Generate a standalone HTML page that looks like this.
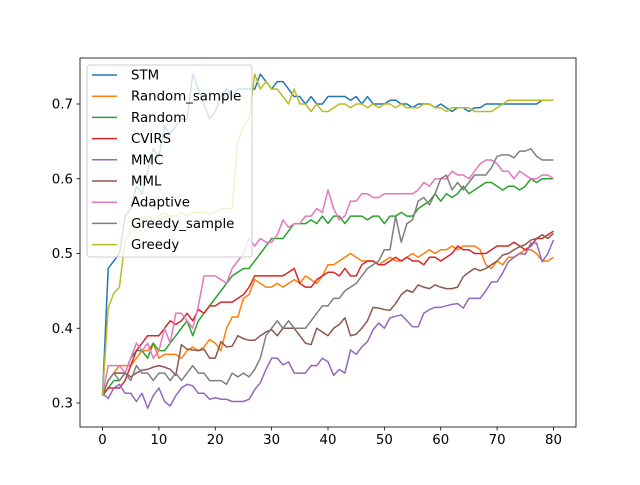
<!DOCTYPE html>
<html><head><meta charset="utf-8"><style>
body{margin:0;background:#fff;}
svg text{font-family:"DejaVu Sans","Liberation Sans",sans-serif;}
</style></head><body>
<svg id="chart" width="640" height="480" xmlns="http://www.w3.org/2000/svg">
<rect x="0" y="0" width="640" height="480" fill="#fff"/>
<g id="plot"></g>
<g id="axes"></g>
<g id="legend"></g>
</svg>
<script>
const xTicks=[0,10,20,30,40,50,60,70,80];
const yTicks=[0.3,0.4,0.5,0.6,0.7];
const seriesNames=["STM","Random_sample","Random","CVIRS","MMC","MML","Adaptive","Greedy_sample","Greedy"];
const seriesColors=["#1f77b4","#ff7f0e","#2ca02c","#d62728","#9467bd","#8c564b","#e377c2","#7f7f7f","#bcbd22"];
const stm=[0.31,0.48,0.49,0.50,0.55,0.56,0.59,0.58,0.61,0.64,0.63,0.67,0.66,0.67,0.68,0.68,0.74,0.72,0.70,0.68,0.69,0.71,0.72,0.71,0.72,0.72,0.72,0.72,0.74,0.73,0.72,0.73,0.73,0.72,0.71,0.71,0.70,0.71,0.70,0.70,0.71,0.71,0.71,0.71,0.705,0.71,0.70,0.71,0.70,0.70,0.70,0.705,0.705,0.70,0.70,0.695,0.70,0.70,0.70,0.695,0.70,0.695,0.69,0.695,0.695,0.69,0.695,0.695,0.70,0.70,0.70,0.70,0.70,0.70,0.70,0.70,0.70,0.70,0.705,0.705,0.705];
const randomSample=[0.31,0.33,0.34,0.35,0.35,0.35,0.36,0.37,0.37,0.38,0.36,0.365,0.365,0.365,0.36,0.37,0.375,0.37,0.375,0.385,0.38,0.37,0.40,0.415,0.415,0.44,0.445,0.465,0.46,0.455,0.455,0.46,0.455,0.46,0.465,0.46,0.47,0.465,0.46,0.47,0.485,0.485,0.49,0.495,0.50,0.495,0.49,0.49,0.49,0.485,0.49,0.495,0.49,0.49,0.495,0.50,0.495,0.50,0.505,0.50,0.505,0.505,0.51,0.505,0.51,0.51,0.51,0.505,0.485,0.48,0.49,0.485,0.495,0.495,0.50,0.505,0.505,0.50,0.49,0.49,0.495];
const random=[0.31,0.32,0.33,0.33,0.34,0.36,0.37,0.37,0.36,0.38,0.37,0.37,0.38,0.39,0.40,0.41,0.39,0.41,0.42,0.43,0.44,0.45,0.46,0.47,0.475,0.48,0.48,0.49,0.50,0.51,0.52,0.52,0.52,0.53,0.54,0.54,0.54,0.545,0.54,0.55,0.54,0.55,0.55,0.54,0.55,0.55,0.55,0.545,0.55,0.55,0.54,0.55,0.55,0.555,0.55,0.55,0.56,0.565,0.57,0.58,0.57,0.58,0.575,0.58,0.59,0.58,0.585,0.59,0.595,0.595,0.59,0.585,0.59,0.59,0.585,0.59,0.60,0.595,0.60,0.60,0.60];
const cvirs=[0.31,0.32,0.32,0.32,0.33,0.35,0.37,0.38,0.39,0.39,0.39,0.40,0.41,0.405,0.41,0.42,0.41,0.425,0.42,0.43,0.43,0.435,0.435,0.435,0.44,0.445,0.455,0.47,0.47,0.47,0.47,0.47,0.47,0.475,0.48,0.46,0.455,0.455,0.465,0.47,0.475,0.475,0.47,0.48,0.47,0.47,0.485,0.49,0.49,0.485,0.485,0.49,0.495,0.49,0.495,0.49,0.49,0.485,0.495,0.495,0.49,0.495,0.50,0.51,0.505,0.505,0.50,0.50,0.50,0.505,0.51,0.51,0.51,0.515,0.51,0.505,0.51,0.52,0.52,0.525,0.53];
const mmc=[0.313,0.306,0.32,0.325,0.313,0.313,0.302,0.313,0.293,0.31,0.32,0.302,0.296,0.31,0.32,0.325,0.323,0.313,0.313,0.305,0.307,0.305,0.305,0.302,0.302,0.302,0.305,0.318,0.327,0.345,0.36,0.36,0.351,0.355,0.34,0.34,0.34,0.35,0.35,0.36,0.355,0.337,0.345,0.34,0.371,0.365,0.375,0.382,0.398,0.407,0.40,0.414,0.416,0.418,0.41,0.402,0.402,0.42,0.425,0.428,0.428,0.43,0.432,0.433,0.427,0.44,0.44,0.44,0.45,0.462,0.462,0.474,0.489,0.495,0.50,0.499,0.514,0.514,0.489,0.50,0.518];
const mml=[0.31,0.33,0.34,0.34,0.34,0.335,0.34,0.344,0.345,0.348,0.35,0.348,0.345,0.337,0.378,0.372,0.371,0.37,0.372,0.36,0.36,0.382,0.375,0.376,0.39,0.386,0.384,0.384,0.39,0.395,0.398,0.39,0.40,0.40,0.40,0.39,0.38,0.378,0.40,0.395,0.39,0.40,0.405,0.414,0.39,0.392,0.40,0.41,0.428,0.427,0.425,0.424,0.433,0.445,0.451,0.448,0.458,0.455,0.453,0.458,0.455,0.453,0.453,0.455,0.469,0.475,0.48,0.477,0.48,0.485,0.49,0.498,0.50,0.505,0.509,0.512,0.518,0.52,0.525,0.52,0.527];
const adaptive=[0.31,0.35,0.35,0.35,0.34,0.36,0.38,0.37,0.38,0.36,0.37,0.40,0.38,0.42,0.42,0.41,0.40,0.43,0.47,0.47,0.47,0.465,0.46,0.48,0.49,0.50,0.52,0.51,0.52,0.515,0.515,0.525,0.545,0.535,0.54,0.54,0.55,0.55,0.56,0.555,0.585,0.56,0.545,0.55,0.57,0.57,0.58,0.58,0.575,0.575,0.58,0.58,0.58,0.58,0.58,0.58,0.585,0.595,0.59,0.60,0.60,0.60,0.61,0.605,0.605,0.60,0.61,0.62,0.625,0.625,0.62,0.61,0.61,0.60,0.61,0.605,0.60,0.60,0.605,0.605,0.60];
const greedySample=[0.31,0.33,0.34,0.33,0.34,0.33,0.35,0.34,0.34,0.33,0.34,0.34,0.33,0.34,0.33,0.34,0.35,0.34,0.34,0.33,0.33,0.33,0.325,0.34,0.335,0.34,0.335,0.345,0.36,0.39,0.40,0.41,0.40,0.41,0.40,0.40,0.40,0.41,0.42,0.43,0.43,0.44,0.44,0.45,0.455,0.46,0.47,0.48,0.485,0.49,0.505,0.505,0.55,0.515,0.54,0.545,0.57,0.575,0.565,0.58,0.60,0.605,0.585,0.595,0.585,0.595,0.605,0.605,0.605,0.615,0.63,0.632,0.632,0.628,0.637,0.637,0.64,0.63,0.625,0.625,0.625];
const greedy=[0.31,0.427,0.447,0.455,0.518,0.53,0.54,0.545,0.55,0.545,0.55,0.555,0.55,0.55,0.555,0.55,0.555,0.555,0.555,0.553,0.555,0.56,0.56,0.56,0.65,0.67,0.68,0.74,0.72,0.73,0.72,0.72,0.71,0.70,0.72,0.70,0.70,0.69,0.70,0.69,0.69,0.695,0.70,0.70,0.695,0.70,0.70,0.695,0.70,0.695,0.70,0.70,0.695,0.70,0.695,0.695,0.695,0.70,0.70,0.695,0.695,0.69,0.695,0.695,0.695,0.695,0.69,0.69,0.69,0.69,0.695,0.70,0.705,0.705,0.705,0.705,0.705,0.705,0.705,0.705,0.705];
const seriesValues=[stm,randomSample,random,cvirs,mmc,mml,adaptive,greedySample,greedy];

const NS="http://www.w3.org/2000/svg";
const L=80,R=576,T=58,B=427;
function xs(v){return L+(v+4)/88*(R-L);}
function ys(v){return 403-(v-0.3)*747.5;}
function mk(tag,attrs,parent){const e=document.createElementNS(NS,tag);for(const k in attrs)e.setAttribute(k,attrs[k]);parent.appendChild(e);return e;}
const plot=document.getElementById('plot'),axes=document.getElementById('axes'),legend=document.getElementById('legend');
seriesValues.forEach((vals,s)=>{
  const d=vals.map((v,i)=>(i?'L':'M')+xs(i).toFixed(2)+' '+ys(v).toFixed(2)).join(' ');
  const p=mk('path',{d:d,fill:'none',stroke:seriesColors[s],'stroke-width':1.5,'stroke-linejoin':'round'},plot);
  
  
});
const frame=mk('rect',{x:L,y:T,width:R-L,height:B-T,fill:'none',stroke:'#000','stroke-width':0.8},axes);


xTicks.forEach(t=>{
  const x=xs(t);
  mk('line',{x1:x,x2:x,y1:B,y2:B+3.5,stroke:'#000','stroke-width':0.8},axes);
  const tx=mk('text',{x:x,y:B+17,'font-size':'10pt','text-anchor':'middle',fill:'#000'},axes);
  tx.textContent=t;
  
  
});
yTicks.forEach(t=>{
  const y=ys(t);
  mk('line',{x1:L-3.5,x2:L,y1:y,y2:y,stroke:'#000','stroke-width':0.8},axes);
  const tx=mk('text',{x:L-7,y:y+4.5,'font-size':'10pt','text-anchor':'end',fill:'#000'},axes);
  tx.textContent=t.toFixed(1);
  
  
});
const box=mk('rect',{x:87,y:65,width:165,height:192,rx:3,fill:'#fff','fill-opacity':0.8,stroke:'#ccc','stroke-width':1},legend);


seriesNames.forEach((n,i)=>{
  const y=75+i*21.2;
  mk('line',{x1:92,x2:117,y1:y,y2:y,stroke:seriesColors[i],'stroke-width':1.5},legend);
  const tx=mk('text',{x:131,y:y+4.5,'font-size':'10pt',fill:'#000'},legend);
  tx.textContent=n;
  
  
});
</script>
</body></html>
